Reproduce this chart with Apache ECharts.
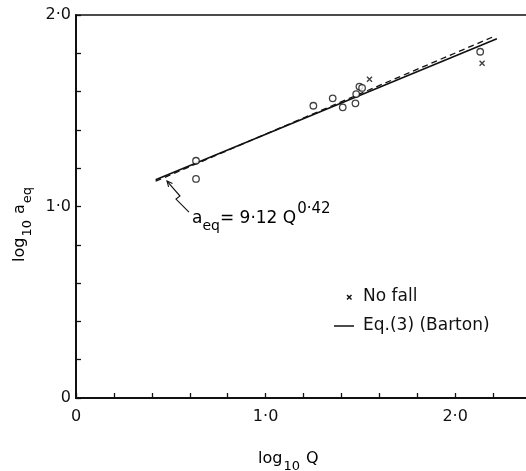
<!DOCTYPE html>
<html><head><meta charset="utf-8">
<script src="https://cdn.jsdelivr.net/npm/echarts@6/dist/echarts.min.js"></script>
<style>html,body{margin:0;padding:0;background:#fff}#c{width:526px;height:471px}</style>
</head><body><div id="c"></div>
<script>
// ---- data ----
const xTickLabels = ['0', '1·0', '2·0'];
const yTickLabels = ['0', '1·0', '2·0'];
const circlePoints = [[0.633,1.239],[0.633,1.144],[1.252,1.526],[1.354,1.565],[1.407,1.518],[1.474,1.539],[1.478,1.587],[1.495,1.626],[1.509,1.619],[2.132,1.808]];
const noFallPoints = [[1.548,1.664],[2.142,1.748]];
const bartonLine = [[0.42,1.14],[2.22,1.876]];
const fitLine = [[0.42,1.132],[2.2,1.886]];
const annotationAnchor = [0.48, 1.133];

const FONT = 'DejaVu Sans';
const INK = '#111';
const isInt = v => Math.abs(v - Math.round(v)) < 1e-6;

const chart = echarts.init(document.getElementById('c'));
chart.setOption({
  animation: false,
  backgroundColor: '#fff',
  textStyle: {fontFamily: FONT},
  grid: {left: 76, top: 15, right: -5, bottom: 73, show: true, borderColor: INK, borderWidth: 1.5,
         containLabel: false, outerBoundsMode: 'none'},
  xAxis: {
    type: 'value', min: 0, max: 2.4, interval: 0.2,
    axisLine: {lineStyle: {color: INK, width: 2}},
    axisTick: {inside: true, length: 5, lineStyle: {color: INK, width: 1.3}},
    splitLine: {show: false},
    axisLabel: {formatter: v => isInt(v) && Math.round(v) < xTickLabels.length ? xTickLabels[Math.round(v)] : '', color: INK, fontSize: 16, margin: 11, fontFamily: FONT}
  },
  yAxis: {
    type: 'value', min: 0, max: 2, interval: 0.2,
    axisLine: {lineStyle: {color: INK, width: 2}},
    axisTick: {inside: true, length: 5, lineStyle: {color: INK, width: 1.3}},
    splitLine: {show: false},
    axisLabel: {formatter: v => isInt(v) ? yTickLabels[Math.round(v)] : '', color: INK, fontSize: 16, margin: 5, fontFamily: FONT}
  },
  series: [
    {name: 'Fall', type: 'scatter', data: circlePoints, symbol: 'circle', symbolSize: 6.5,
     itemStyle: {color: '#fff', borderColor: INK, borderWidth: 1.3}, z: 5},
    {name: 'No fall', type: 'scatter', data: noFallPoints, symbol: 'path://M0,0L10,10M10,0L0,10', symbolSize: 5,
     itemStyle: {color: 'none', borderColor: INK, borderWidth: 1.4}, z: 5},
    {name: 'Eq.(3) (Barton)', type: 'line', data: bartonLine, symbol: 'none', lineStyle: {color: INK, width: 1.6}},
    {name: 'a_eq = 9.12 Q^0.42', type: 'line', data: fitLine, symbol: 'none', lineStyle: {color: INK, width: 1.3, type: [6, 4]}}
  ]
});

const tip = chart.convertToPixel({gridIndex: 0}, annotationAnchor);
const tx = tip[0], ty = tip[1];
const rel = (dx, dy) => [tx + dx, ty + dy];

chart.setOption({
  graphic: [
    // leader from annotation to fitted line
    {type: 'polyline', shape: {points: [rel(0,0), rel(13,15), rel(9,18), rel(22,31)]}, style: {stroke: INK, lineWidth: 1.1, fill: 'none'}},
    {type: 'polyline', shape: {points: [rel(1.6,5.8), rel(0,0), rel(5.5,2.5)]}, style: {stroke: INK, lineWidth: 1.1, fill: 'none'}},
    {type: 'text', x: tx + 25, y: ty + 21, style: {
      text: '{m|a}{s|eq}{m|= 9·12 Q}{p|0·42}', verticalAlign: 'top', align: 'left',
      rich: {
        m: {fontFamily: FONT, fontSize: 17, lineHeight: 17, verticalAlign: 'top', padding: [8,0,0,0], color: INK},
        s: {fontFamily: FONT, fontSize: 14, lineHeight: 14, verticalAlign: 'top', padding: [17,0,0,0], color: INK},
        p: {fontFamily: FONT, fontSize: 15, lineHeight: 15, verticalAlign: 'top', padding: [0,0,0,1], color: INK}
      }}},
    // legend
    {type: 'polyline', shape: {points: [[347,295],[351.5,299.5]]}, style: {stroke: INK, lineWidth: 1.4}},
    {type: 'polyline', shape: {points: [[351.5,295],[347,299.5]]}, style: {stroke: INK, lineWidth: 1.4}},
    {type: 'text', x: 363, y: 297, style: {text: 'No fall', fontFamily: FONT, fontSize: 17, fill: INK, verticalAlign: 'middle'}},
    {type: 'line', shape: {x1: 334, y1: 326, x2: 354, y2: 326}, style: {stroke: INK, lineWidth: 1.5}},
    {type: 'text', x: 363, y: 326, style: {text: 'Eq.(3) (Barton)', fontFamily: FONT, fontSize: 17, fill: INK, verticalAlign: 'middle'}},
    // axis titles
    {type: 'text', x: 258, y: 451, style: {
      text: '{m|log}{s|10}{m| Q}', verticalAlign: 'top', align: 'left',
      rich: {
        m: {fontFamily: FONT, fontSize: 16, lineHeight: 16, verticalAlign: 'top', color: INK},
        s: {fontFamily: FONT, fontSize: 13, lineHeight: 13, verticalAlign: 'top', padding: [9,1,0,1], color: INK}
      }}},
    {type: 'text', x: 12, y: 262, rotation: Math.PI / 2, style: {
      text: '{m|log}{s|10}{m| a}{s|eq}', verticalAlign: 'top', align: 'left',
      rich: {
        m: {fontFamily: FONT, fontSize: 16, lineHeight: 16, verticalAlign: 'top', color: INK},
        s: {fontFamily: FONT, fontSize: 13, lineHeight: 13, verticalAlign: 'top', padding: [9,1,0,1], color: INK}
      }}}
  ]
});
</script>
</body></html>
